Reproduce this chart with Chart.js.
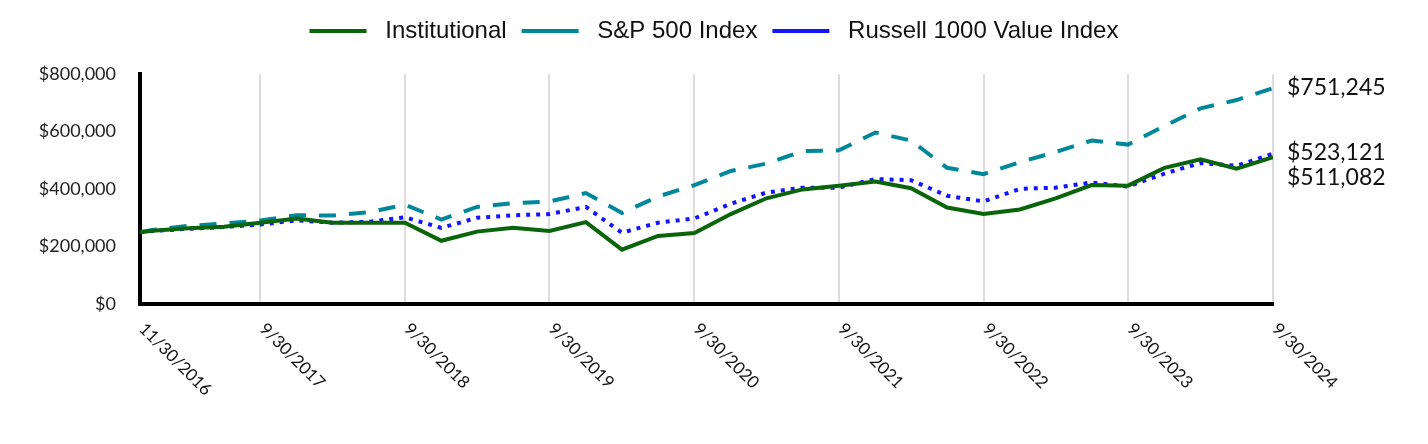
<!DOCTYPE html>
<html>
<head>
<meta charset="utf-8">
<script src="https://cdn.jsdelivr.net/npm/chart.js@4.4.1/dist/chart.umd.min.js"></script>
<style>
  html, body { margin: 0; padding: 0; background: #fff; }
  #wrap { width: 1428px; height: 444px; position: relative; }
</style>
</head>
<body>
<div id="wrap"><canvas id="growthChart"></canvas></div>
<script>
// quarter-end dates of the data points
var dates = ['11/30/2016','12/31/2016','3/31/2017','6/30/2017','9/30/2017','12/31/2017','3/31/2018','6/30/2018','9/30/2018',
  '12/31/2018','3/31/2019','6/30/2019','9/30/2019','12/31/2019','3/31/2020','6/30/2020','9/30/2020',
  '12/31/2020','3/31/2021','6/30/2021','9/30/2021','12/31/2021','3/31/2022','6/30/2022','9/30/2022',
  '12/31/2022','3/31/2023','6/30/2023','9/30/2023','12/31/2023','3/31/2024','6/30/2024','9/30/2024'];

var institutional = [250000, 255000, 264000, 269000, 283000, 298000, 283000, 283000, 283000,
  220000, 252000, 265000, 254000, 285000, 189000, 237000, 247000,
  313000, 368000, 399000, 412000, 426000, 403000, 336000, 313000,
  329000, 368000, 414000, 412000, 474000, 504000, 471000, 511082];

var sp500 = [250000, 258000, 272000, 280000, 291000, 309000, 308000, 319000, 346000,
  294000, 338000, 351000, 357000, 386000, 317000, 374000, 414000,
  463000, 489000, 532000, 535000, 597000, 569000, 474000, 452000,
  494000, 529000, 569000, 555000, 620000, 681000, 710000, 751245];

var russell = [250000, 254000, 262000, 268000, 277000, 291000, 283000, 286000, 302000,
  265000, 300000, 309000, 313000, 338000, 248000, 283000, 298000,
  349000, 388000, 405000, 405000, 435000, 431000, 377000, 357000,
  401000, 405000, 423000, 409000, 454000, 491000, 481000, 523121];

var tickLabels = ['11/30/2016','9/30/2017','9/30/2018','9/30/2019','9/30/2020','9/30/2021','9/30/2022','9/30/2023','9/30/2024'];

function dayNum(s) {
  var p = s.split('/');
  var t = Date.UTC(+p[2], +p[0] - 1, +p[1]);
  var p0 = dates[0].split('/');
  return Math.round((t - Date.UTC(+p0[2], +p0[0] - 1, +p0[1])) / 86400000);
}

function toPoints(vals) {
  return vals.map(function(v, i) { return { x: dayNum(dates[i]), y: v }; });
}

var tickFont = 'Lato, "DejaVu Sans", sans-serif';

function money(v) {
  return '$' + Math.round(v).toString().replace(/\B(?=(\d{3})+(?!\d))/g, ',');
}

// rotated date labels under the x axis (start at the tick, run down-right)
var xLabelsPlugin = {
  id: 'xLabels',
  afterDraw: function(chart) {
    var ctx = chart.ctx;
    var xs = chart.scales.x;
    ctx.save();
    ctx.font = '17px ' + tickFont;
    ctx.fillStyle = '#111';
    ctx.textAlign = 'left';
    ctx.textBaseline = 'middle';
    tickLabels.forEach(function(lbl) {
      var px = xs.getPixelForValue(dayNum(lbl));
      ctx.save();
      ctx.translate(px + 2, xs.top + 22);
      ctx.rotate(Math.PI / 4);
      ctx.fillText(lbl, 0, 0);
      ctx.restore();
    });
    ctx.restore();
  }
};

// ending value labels to the right of the plot
var endLabelsPlugin = {
  id: 'endLabels',
  afterDatasetsDraw: function(chart) {
    var ctx = chart.ctx;
    var items = [];
    chart.data.datasets.forEach(function(ds, i) {
      var meta = chart.getDatasetMeta(i);
      var last = meta.data[meta.data.length - 1];
      items.push({ y: last.y, text: money(ds.data[ds.data.length - 1].y) });
    });
    items.sort(function(a, b) { return a.y - b.y; });
    for (var k = 1; k < items.length; k++) {
      if (items[k].y - items[k - 1].y < 25) items[k].y = items[k - 1].y + 25;
    }
    ctx.save();
    ctx.font = '23px ' + tickFont;
    ctx.fillStyle = '#111';
    ctx.textAlign = 'left';
    ctx.textBaseline = 'middle';
    items.forEach(function(it) {
      ctx.fillText(it.text, chart.chartArea.right + 14, it.y - 1);
    });
    ctx.restore();
  }
};

var chartdata = {
  datasets: [
    {
      label: 'Institutional',
      data: toPoints(institutional),
      borderColor: '#0a640a',
      backgroundColor: '#0a640a',
      borderWidth: 4,
      pointRadius: 0,
      tension: 0
    },
    {
      label: 'S&P 500 Index',
      data: toPoints(sp500),
      borderColor: '#00879a',
      backgroundColor: '#00879a',
      borderWidth: 4,
      borderDash: [17, 13],
      pointRadius: 0,
      tension: 0
    },
    {
      label: 'Russell 1000 Value Index',
      data: toPoints(russell),
      borderColor: '#1414ff',
      backgroundColor: '#1414ff',
      borderWidth: 4,
      borderDash: [4, 6],
      pointRadius: 0,
      tension: 0
    }
  ]
};

const growthCanvas = document.getElementById('growthChart');

let growthChart = new Chart(growthCanvas, {
  type: 'line',
  data: chartdata,
  plugins: [xLabelsPlugin, endLabelsPlugin],
  options: {
    responsive: true,
    maintainAspectRatio: false,
    animation: false,
    layout: { padding: { top: 4, right: 0, bottom: 0, left: 0 } },
    plugins: {
      tooltip: { enabled: false },
      legend: {
        position: 'top',
        labels: {
          usePointStyle: true,
          pointStyle: 'line',
          pointStyleWidth: 57,
          boxHeight: 20,
          padding: 15,
          color: '#111',
          font: { family: '"Liberation Sans", Arial, sans-serif', size: 24 },
          // a little more room between the line sample and its text
          generateLabels: function(chart) {
            var items = Chart.defaults.plugins.legend.labels.generateLabels(chart);
            items.forEach(function(it) { it.text = ' ' + it.text; });
            return items;
          }
        }
      },
      // empty spacer between legend and plot
      subtitle: {
        display: true,
        text: '',
        position: 'top',
        weight: 500,
        font: { size: 1 },
        padding: { top: 0, bottom: 20 }
      }
    },
    scales: {
      x: {
        type: 'linear',
        min: 0,
        max: dayNum(dates[dates.length - 1]),
        afterBuildTicks: function(scale) {
          scale.ticks = tickLabels.map(function(l) { return { value: dayNum(l) }; });
        },
        afterFit: function(scale) { scale.height = 140; },
        ticks: { display: false },
        grid: { color: '#dcdcdc', lineWidth: 2, drawTicks: false },
        border: { color: '#000', width: 4 }
      },
      y: {
        min: 0,
        max: 800000,
        afterFit: function(scale) { scale.width = 140; },
        ticks: {
          stepSize: 200000,
          padding: 24,
          color: '#222',
          font: { family: tickFont, size: 18 },
          callback: function(v) { return money(v); }
        },
        grid: { display: false, drawTicks: false },
        border: { color: '#000', width: 4 }
      },
      // empty right-hand axis that keeps room for the end labels
      yRight: {
        position: 'right',
        min: 0,
        max: 800000,
        afterFit: function(scale) { scale.width = 155; },
        ticks: { display: false },
        grid: { display: false, drawTicks: false },
        border: { display: false }
      }
    }
  }
});
</script>
</body>
</html>
